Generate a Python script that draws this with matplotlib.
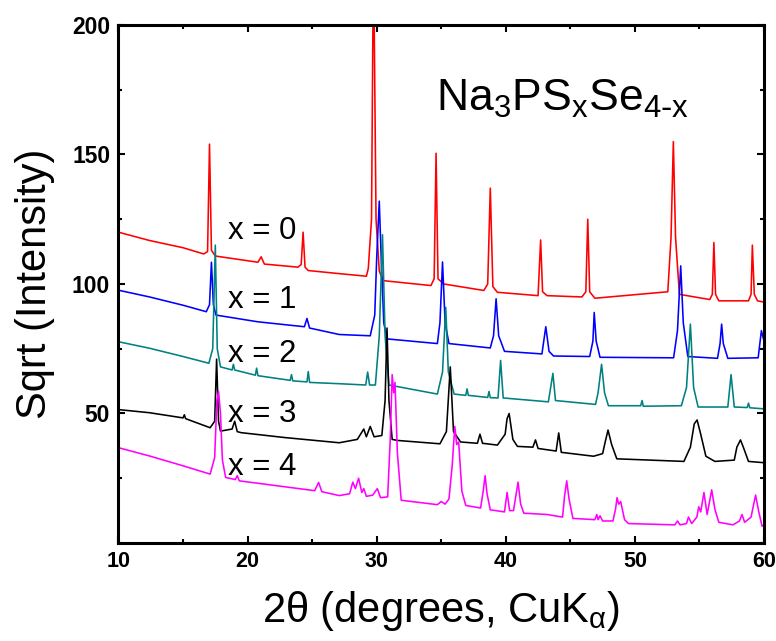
import matplotlib
matplotlib.use("Agg")
import matplotlib.pyplot as plt
from matplotlib.ticker import MultipleLocator, FixedLocator

# traced XRD patterns, sqrt(intensity) vs 2theta
tt_x0 = [10, 12.4, 15, 16.6, 16.9, 17.05, 17.2, 17.5, 20.8, 21.05, 21.3, 23.9, 24.15, 24.3, 24.45,
         24.7, 27.1, 29.2, 29.35, 29.6, 29.75, 29.95, 30.2, 30.5, 34.2, 34.45, 34.6, 34.75, 35.2,
         38.3, 38.6, 38.8, 39.0, 39.35, 42.5, 42.7, 42.85, 43.2, 45.9, 46.2, 46.35, 46.5, 46.9,
         52.55, 52.8, 52.98, 53.15, 53.45, 55.8, 56.0, 56.12, 56.25, 56.5, 58.8, 59.0, 59.1,
         59.25, 59.5, 60]
y_x0 = [120, 116.8, 114, 111.6, 112.5, 154, 113, 110.8, 108.4, 110.5, 107.7, 106.5, 107.5, 120, 106.5,
        105.2, 104, 103, 106, 125, 230, 125, 105, 101.3, 99.4, 102, 150.5, 102, 100,
        97.5, 100, 137, 99, 96.8, 95.5, 117, 97, 95.5, 95, 97, 125, 97, 94.5,
        97, 118, 155, 118, 96, 94, 96, 116, 96, 93.5, 93.5, 96, 115,
        96, 93.5, 93]

tt_x1 = [10, 12.4, 15, 16.8, 17.05, 17.2, 17.35, 17.55, 20.8, 24.4, 24.6, 24.8, 27.1, 29.5, 29.85,
         30.0, 30.2, 30.35, 30.55, 30.8, 34.7, 34.9, 35.1, 35.3, 35.6, 38.8, 39.05, 39.25, 39.45,
         39.9, 42.8, 43.1, 43.35, 43.7, 46.5, 46.75, 46.85, 47.0, 47.3, 53.0, 53.3, 53.55, 53.75,
         54.1, 56.4, 56.6, 56.72, 56.85, 57.2, 59.55, 59.8, 60]
y_x1 = [97.6, 95, 91.8, 89.3, 92, 108.4, 92, 88, 85.4, 83.5, 86.7, 83, 80.5, 80, 88,
        110, 132, 110, 85, 78.8, 77, 85, 108.5, 85, 77, 75.3, 80, 94.3, 80,
        74, 73, 83.5, 74, 72.2, 72, 78, 89, 78, 71.7, 71.5, 82, 107, 85,
        72, 71.3, 77, 84.5, 77, 71.3, 71.5, 82, 78]

tt_x2 = [10, 12.4, 15, 17.0, 17.3, 17.5, 17.65, 17.9, 18.8, 18.9, 19.0, 20.6, 20.7, 20.8, 23.3,
         23.4, 23.5, 24.6, 24.7, 24.8, 27.1, 29.15, 29.3, 29.45, 29.9, 30.2, 30.45, 30.65, 30.95,
         34.7, 35.1, 35.35, 35.55, 36.0, 36.9, 37.0, 37.1, 38.6, 38.7, 38.8, 39.4, 39.6, 39.8,
         43.3, 43.65, 43.85, 46.95, 47.15, 47.42, 47.65, 47.95, 50.45, 50.56, 50.65, 53.6, 54.0,
         54.3, 54.55, 54.9, 57.2, 57.45, 57.7, 58.7, 58.8, 58.9, 60]
y_x2 = [77.7, 75.2, 72, 69.4, 75, 115, 75, 68, 66.8, 69, 66.8, 64.8, 67.5, 64.6, 62.8,
        65, 62.6, 62.2, 66.2, 62, 61.5, 61, 66, 61, 61, 80, 119, 80, 61,
        57.5, 66, 91, 66, 57.5, 57, 59.5, 57, 56.2, 58.5, 56.1, 56, 70.5, 56,
        54.5, 65.5, 55, 53.5, 58, 69, 58, 53, 53, 55, 52.8, 53, 60,
        84.5, 60, 52.5, 52.5, 65, 52.5, 52.3, 54, 52.2, 51.8]

tt_x3 = [10, 12.4, 15.0, 15.1, 15.2, 17.1, 17.45, 17.6, 17.75, 17.9, 18.8, 19.0, 19.2, 19.5, 22.9,
         27.1, 28.5, 29.0, 29.2, 29.5, 29.8, 30.4, 30.65, 30.8, 30.95, 31.2, 31.6, 34.9, 35.4,
         35.7, 35.95, 36.5, 37.8, 38.0, 38.2, 39.35, 39.95, 40.1, 40.26, 40.55, 40.9, 42.1, 42.3,
         42.5, 43.9, 44.1, 44.3, 46.8, 47.5, 47.7, 47.92, 48.2, 48.6, 53.8, 54.3, 54.6, 54.82,
         55.1, 55.5, 56.2, 57.7, 57.9, 58.18, 58.4, 58.8, 60]
y_x3 = [51.5, 50.3, 48.3, 49.5, 48, 44.5, 47, 71, 47, 43.2, 44, 47, 43, 42.6, 40.7,
        38.7, 40, 44, 41, 45, 41, 41.5, 55, 83, 55, 40, 39.6, 38.3, 43,
        68, 43, 39, 38.5, 42, 38.5, 37.8, 42, 48, 50, 40, 37.3, 37, 39.8,
        36.5, 35.5, 42.5, 35, 33.5, 34.5, 39, 43.6, 38, 32.5, 31.5, 37, 46, 47.5,
        42, 33.5, 31.5, 32, 37, 39.8, 37, 31.5, 31]

tt_x4 = [10, 12.4, 15, 17.1, 17.45, 17.62, 17.75, 17.9, 18.05, 18.3, 19.05, 19.2, 19.35, 25.2, 25.5,
         25.75, 27.1, 27.9, 28.15, 28.35, 28.6, 28.85, 29.0, 29.2, 29.7, 30.05, 30.3, 30.85, 31.05,
         31.2, 31.32, 31.42, 31.6, 31.9, 34.7, 35.0, 35.3, 35.6, 35.85, 36.05, 36.2, 36.35, 36.6,
         36.9, 38.05, 38.25, 38.4, 38.55, 38.8, 39.9, 40.1, 40.3, 40.6, 40.95, 41.15, 41.4, 43.2,
         44.4, 44.55, 44.72, 44.9, 45.2, 46.9, 47.05, 47.15, 47.3, 47.5, 48.3, 48.5, 48.62, 48.75,
         48.9, 49.2, 49.5, 53.1, 53.3, 53.5, 54.0, 54.15, 54.4, 54.8, 54.95, 55.1, 55.35, 55.6,
         55.95, 56.2, 56.5, 57.6, 58.1, 58.3, 58.5, 59.0, 59.35, 59.6, 59.85, 60]
y_x4 = [36.8, 33.6, 29.8, 26.6, 33, 55, 58.6, 50, 32, 25.3, 24.5, 26, 24, 20.2, 23.4,
        19.8, 18.3, 19, 23.5, 21, 25, 19.5, 21, 18, 18.5, 21, 17.5, 17.8, 40,
        65, 58, 62, 35, 16.5, 14.8, 16, 15, 17, 30, 45, 38, 39, 20,
        14.5, 13.5, 20, 26, 19, 12.8, 12, 19.5, 12.5, 12.5, 23.5, 15, 11.5, 11,
        10, 18, 24, 17, 9.5, 9, 11, 9, 10.5, 8.5, 8.5, 13, 17.5, 15,
        16, 9, 7.5, 7, 8.5, 7, 7.5, 10, 7.5, 10, 14, 12, 19.5, 11,
        20.5, 13, 8, 7, 8.5, 11, 8, 10, 18.5, 12, 6.5, 7]

series_labels = ["x = 0", "x = 1", "x = 2", "x = 3", "x = 4"]
label_y = [117.4, 90.7, 69.9, 46.7, 26.3]

plt.rcParams['font.family'] = ['Liberation Sans', 'DejaVu Sans']
plt.rcParams['mathtext.default'] = 'regular'

fig = plt.figure(figsize=(7.76, 6.41), dpi=100)
ax = fig.add_axes([0.1527, 0.1529, 0.8318, 0.8081])

colors = ['#ff0000', '#0000ff', '#008080', '#000000', '#ff00ff']
data = [(tt_x0, y_x0), (tt_x1, y_x1), (tt_x2, y_x2), (tt_x3, y_x3), (tt_x4, y_x4)]
for (xs, ys), c in zip(data, colors):
    ax.plot(xs, ys, color=c, lw=1.15)

for lab, ly in zip(series_labels, label_y):
    ax.text(18.5, ly, lab, fontsize=22.5, va='baseline', ha='left')

ax.text(34.58, 166.9, r'Na$_3$PS$_x$Se$_{4\text{-}x}$', fontsize=32, va='baseline', ha='left')

ax.set_xlim(10, 60)
ax.set_ylim(0, 200)
ax.xaxis.set_major_locator(MultipleLocator(10))
ax.xaxis.set_minor_locator(MultipleLocator(5))
ax.yaxis.set_major_locator(FixedLocator([50, 100, 150, 200]))
ax.yaxis.set_minor_locator(MultipleLocator(25))
ax.tick_params(which='both', direction='in', top=True, right=True, width=1.5)
ax.tick_params(which='major', length=5, pad=6)
ax.tick_params(axis='x', labelsize=15.5)
ax.tick_params(axis='y', labelsize=16.5)
ax.tick_params(which='minor', length=3)
for lbl in ax.get_xticklabels() + ax.get_yticklabels():
    lbl.set_fontweight('bold')
for sp in ax.spines.values():
    sp.set_linewidth(2.2)

ax.set_xlabel(r'2θ (degrees, CuK$_{α}$)', fontsize=30, va='top')
ax.xaxis.set_label_coords(0.5, -0.088)
ax.set_ylabel('Sqrt (Intensity)', fontsize=30, va='center')
ax.yaxis.set_label_coords(-0.129, 0.5)

fig.savefig('out.png', dpi=100)
